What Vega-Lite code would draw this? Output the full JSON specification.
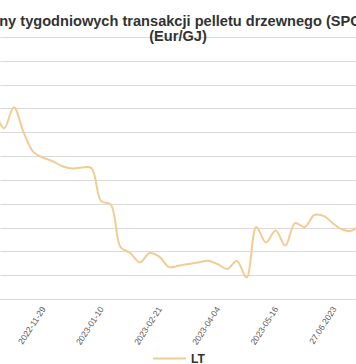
{
  "$schema": "https://vega.github.io/schema/vega-lite/v6.json",
  "width": 356,
  "height": 262,
  "autosize": {"type": "none"},
  "padding": {"top": 37, "left": 0, "right": 0, "bottom": 65},
  "background": "white",
  "title": {
    "text": ["Ceny tygodniowych transakcji pelletu drzewnego (SPOT)", "(Eur/GJ)"],
    "font": "Liberation Sans",
    "fontSize": 14.6,
    "fontWeight": "bold",
    "color": "#333333",
    "anchor": "middle",
    "lineHeight": 15,
    "offset": -7
  },
  "data": {
    "values": [
      {"date": "2022-10-25", "price": 23.85, "series": "LT"},
      {"date": "2022-11-01", "price": 22.34, "series": "LT"},
      {"date": "2022-11-08", "price": 24.1, "series": "LT"},
      {"date": "2022-11-15", "price": 22.01, "series": "LT"},
      {"date": "2022-11-22", "price": 20.35, "series": "LT"},
      {"date": "2022-11-29", "price": 19.87, "series": "LT"},
      {"date": "2022-12-06", "price": 19.57, "series": "LT"},
      {"date": "2022-12-13", "price": 19.15, "series": "LT"},
      {"date": "2022-12-20", "price": 18.96, "series": "LT"},
      {"date": "2022-12-27", "price": 19.05, "series": "LT"},
      {"date": "2023-01-03", "price": 18.99, "series": "LT"},
      {"date": "2023-01-10", "price": 16.22, "series": "LT"},
      {"date": "2023-01-17", "price": 15.93, "series": "LT"},
      {"date": "2023-01-24", "price": 12.36, "series": "LT"},
      {"date": "2023-01-31", "price": 11.86, "series": "LT"},
      {"date": "2023-02-07", "price": 11.06, "series": "LT"},
      {"date": "2023-02-14", "price": 11.86, "series": "LT"},
      {"date": "2023-02-21", "price": 11.56, "series": "LT"},
      {"date": "2023-02-28", "price": 10.68, "series": "LT"},
      {"date": "2023-03-07", "price": 10.79, "series": "LT"},
      {"date": "2023-03-14", "price": 10.94, "series": "LT"},
      {"date": "2023-03-21", "price": 11.06, "series": "LT"},
      {"date": "2023-03-28", "price": 11.21, "series": "LT"},
      {"date": "2023-04-04", "price": 10.94, "series": "LT"},
      {"date": "2023-04-11", "price": 10.52, "series": "LT"},
      {"date": "2023-04-18", "price": 11.19, "series": "LT"},
      {"date": "2023-04-25", "price": 9.8, "series": "LT"},
      {"date": "2023-05-02", "price": 14.04, "series": "LT"},
      {"date": "2023-05-09", "price": 12.74, "series": "LT"},
      {"date": "2023-05-16", "price": 13.75, "series": "LT"},
      {"date": "2023-05-23", "price": 12.49, "series": "LT"},
      {"date": "2023-05-30", "price": 14.37, "series": "LT"},
      {"date": "2023-06-06", "price": 14.04, "series": "LT"},
      {"date": "2023-06-13", "price": 15.05, "series": "LT"},
      {"date": "2023-06-20", "price": 14.96, "series": "LT"},
      {"date": "2023-06-27", "price": 14.29, "series": "LT"},
      {"date": "2023-07-04", "price": 13.79, "series": "LT"},
      {"date": "2023-07-11", "price": 13.79, "series": "LT"},
      {"date": "2023-07-18", "price": 14.79, "series": "LT"}
    ]
  },
  "mark": {"type": "line", "interpolate": "catmull-rom", "strokeWidth": 2, "clip": true},
  "encoding": {
    "x": {
      "field": "date",
      "type": "temporal",
      "scale": {
        "type": "utc",
        "domain": [
          {"year": 2022, "month": 10, "date": 29, "utc": true},
          {"year": 2023, "month": 7, "date": 13, "utc": true}
        ]
      },
      "axis": {
        "title": null,
        "grid": false,
        "ticks": false,
        "domainColor": "#d9d9d9",
        "domainWidth": 1,
        "values": [
          {"year": 2022, "month": 11, "date": 29, "utc": true},
          {"year": 2023, "month": 1, "date": 10, "utc": true},
          {"year": 2023, "month": 2, "date": 21, "utc": true},
          {"year": 2023, "month": 4, "date": 4, "utc": true},
          {"year": 2023, "month": 5, "date": 16, "utc": true},
          {"year": 2023, "month": 6, "date": 27, "utc": true}
        ],
        "labelExpr": "utcFormat(datum.value, '%m') == '06' ? utcFormat(datum.value, '%d.%m.%Y') : utcFormat(datum.value, '%Y-%m-%d')",
        "labelAngle": -57,
        "labelFont": "Liberation Sans",
        "labelFontSize": 8.5,
        "labelColor": "#595959",
        "labelPadding": 8,
        "labelOverlap": false,
        "labelFlush": false
      }
    },
    "y": {
      "field": "price",
      "type": "quantitative",
      "scale": {"domain": [8, 30], "nice": false, "zero": false},
      "axis": {
        "title": null,
        "labels": false,
        "ticks": false,
        "domain": false,
        "values": [8, 10, 12, 14, 16, 18, 20, 22, 24, 26, 28, 30],
        "gridColor": "#d9d9d9",
        "gridWidth": 1
      }
    },
    "color": {
      "field": "series",
      "type": "nominal",
      "scale": {"range": ["#f1cc93"]},
      "legend": {
        "title": null,
        "orient": "bottom",
        "direction": "horizontal",
        "symbolType": "stroke",
        "symbolSize": 1089,
        "symbolStrokeWidth": 2,
        "labelFont": "Liberation Sans",
        "labelFontSize": 12,
        "labelFontWeight": "bold",
        "labelColor": "#333333",
        "offset": -5
      }
    }
  },
  "config": {
    "view": {"stroke": null},
    "legend": {"layout": {"bottom": {"anchor": "middle"}}}
  }
}
